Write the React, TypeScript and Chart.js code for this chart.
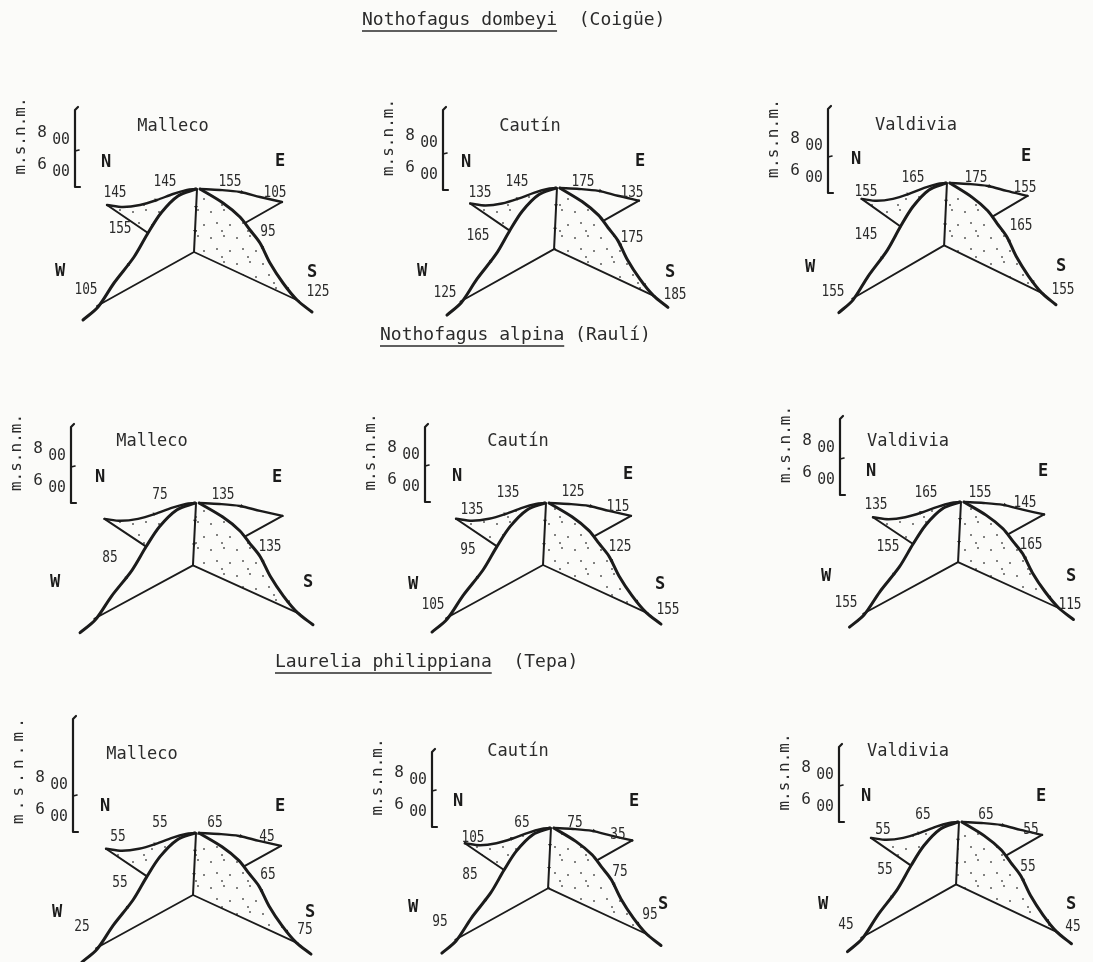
import React, { useEffect, useRef } from "react";
import { Chart, registerables } from "chart.js";

Chart.register(...registerables);

const W = 1093;
const H = 962;

// ---------- data ----------
const SPECIES = ["Nothofagus dombeyi", "Nothofagus alpina", "Laurelia philippiana"];
const COMMON_NAMES = ["(Coigüe)", "(Raulí)", "(Tepa)"];
const TITLE_GAPS = ["  ", " ", "  "];
const REGIONS = ["Malleco", "Cautín", "Valdivia"];
const ASPECTS = ["N", "E", "S", "W"];
const ALTITUDE_TICKS = ["800", "600"];
const ALTITUDE_UNIT = "m.s.n.m.";

// values per region [Malleco, Cautín, Valdivia], each [N, E, S, W]
const COIGUE_800 = [[145, 155, 95, 155], [145, 175, 175, 165], [165, 175, 165, 145]];
const COIGUE_600 = [[145, 105, 125, 105], [135, 135, 185, 125], [155, 155, 155, 155]];
const RAULI_800 = [[75, 135, 135, 85], [135, 125, 125, 95], [165, 155, 165, 155]];
const RAULI_600 = [[null, null, null, null], [135, 115, 155, 105], [135, 145, 115, 155]];
const TEPA_800 = [[55, 65, 65, 55], [65, 75, 75, 85], [65, 65, 55, 55]];
const TEPA_600 = [[55, 45, 75, 25], [105, 35, 95, 95], [55, 55, 45, 45]];

const VALUES_800 = [COIGUE_800, RAULI_800, TEPA_800];
const VALUES_600 = [COIGUE_600, RAULI_600, TEPA_600];

// ---------- drawing template (shape of the schematic mountain, relative to summit) ----------
const RIDGE_N = [[-89, 16], [-73, 18], [-56, 16], [-39, 11], [-23, 5], [-9, 1], [0, 0]];
const RIDGE_E = [[4, 0], [24, 1], [44, 3], [64, 8], [86, 13]];
const RIDGE_W = [[0, 0], [-18, 7], [-35, 24], [-48, 44], [-62, 68], [-82, 94], [-98, 118], [-113, 131]];
const RIDGE_S = [[4, 0], [27, 14], [44, 28], [54, 41], [64, 54], [74, 74], [87, 94], [101, 111], [116, 123]];
const LINK_N = [[-89, 16], [-48, 44]];
const LINK_E = [[86, 13], [49, 34]];
const AXIS_V = [[1, 0], [-2, 63]];
const BASE = [[-99, 117], [-2, 63], [103, 112]];
const REGION_S = [[1, 0], [4, 0], [27, 14], [44, 28], [54, 41], [64, 54], [74, 74], [87, 94], [101, 111], [103, 112], [-2, 63]];
const REGION_N = [...RIDGE_N, [-18, 7], [-35, 24], [-48, 44]];
const BARBS = [[-40, 11, 70], [46, 3, 100], [-68, 76, 215], [67, 59, 145], [92, 100, 145], [0, 18, 180], [-1, 42, 180]];

// ---------- layout ----------
const TITLE_POS = [[362, 20], [380, 335], [275, 662]];
const PANEL_LAYOUT: any[] = [
  { peak: [196, 189], sx: 1.0, sy: 1.0, bar: [75, 108, 187], region: [173, 127],
    dirs: [[106, 163], [280, 162], [312, 273], [60, 272]],
    at800: [[165, 182], [230, 182], [268, 232], [120, 229]],
    at600: [[115, 193], [275, 193], [318, 292], [86, 290]] },
  { peak: [556, 188], sx: 0.965, sy: 0.97, bar: [443, 108, 190], region: [530, 127],
    dirs: [[466, 163], [640, 162], [670, 273], [422, 272]],
    at800: [[517, 182], [583, 182], [632, 238], [478, 236]],
    at600: [[480, 193], [632, 193], [675, 295], [445, 293]] },
  { peak: [946, 183], sx: 0.948, sy: 0.99, bar: [828, 107, 193], region: [916, 126],
    dirs: [[856, 160], [1026, 157], [1061, 267], [810, 268]],
    at800: [[913, 178], [976, 178], [1021, 226], [866, 235]],
    at600: [[866, 192], [1025, 188], [1063, 290], [833, 292]] },
  { peak: [195, 503], sx: 1.017, sy: 0.99, bar: [71, 425, 503], region: [152, 442],
    dirs: [[100, 478], [277, 478], [308, 583], [55, 583]],
    at800: [[160, 495], [223, 495], [270, 547], [110, 558]],
    at600: [[115, 508], [275, 508], [318, 610], [86, 608]] },
  { peak: [545, 503], sx: 1.0, sy: 0.985, bar: [425, 425, 502], region: [518, 442],
    dirs: [[457, 477], [628, 475], [660, 585], [413, 585]],
    at800: [[508, 493], [573, 492], [620, 547], [468, 550]],
    at600: [[472, 510], [618, 507], [668, 610], [433, 605]] },
  { peak: [960, 502], sx: 0.978, sy: 0.955, bar: [840, 417, 495], region: [908, 442],
    dirs: [[871, 472], [1043, 472], [1071, 577], [826, 577]],
    at800: [[926, 493], [980, 493], [1031, 545], [888, 547]],
    at600: [[876, 505], [1025, 503], [1070, 605], [846, 603]] },
  { peak: [195, 833], sx: 1.0, sy: 0.985, bar: [73, 717, 832], region: [142, 755], unitSpan: [718, 824],
    dirs: [[105, 807], [280, 807], [310, 913], [57, 913]],
    at800: [[160, 823], [215, 823], [268, 875], [120, 883]],
    at600: [[118, 837], [267, 837], [305, 930], [82, 927]] },
  { peak: [550, 828], sx: 0.957, sy: 0.955, bar: [432, 750, 827], region: [518, 752],
    dirs: [[458, 802], [634, 802], [663, 905], [413, 908]],
    at800: [[522, 823], [575, 823], [620, 872], [470, 875]],
    at600: [[473, 838], [618, 835], [650, 915], [440, 922]] },
  { peak: [958, 822], sx: 0.978, sy: 0.99, bar: [839, 745, 822], region: [908, 752],
    dirs: [[866, 797], [1041, 797], [1071, 905], [823, 905]],
    at800: [[923, 815], [986, 815], [1028, 867], [885, 870]],
    at600: [[883, 830], [1031, 830], [1073, 927], [846, 925]] },
];

const INK = "#1b1b1b";
const TEXT_INK = "#2b2b2b";
const PAPER = "#fbfbf9";
const MONO = '"DejaVu Sans Mono", "Liberation Mono", monospace';

function makeStipple(): CanvasPattern | string {
  const c = document.createElement("canvas");
  c.width = 26;
  c.height = 26;
  const g = c.getContext("2d");
  if (!g) return "rgba(0,0,0,0.1)";
  g.fillStyle = "rgba(60,60,60,0.85)";
  const dots = [[3, 4], [16, 2], [9, 15], [22, 17], [14, 23]];
  dots.forEach(([x, y]) => {
    g.beginPath();
    g.arc(x, y, 1.0, 0, Math.PI * 2);
    g.fill();
  });
  const p = g.createPattern(c, "repeat");
  return p || "rgba(0,0,0,0.1)";
}

function lineDs(data: any[], width: number, tension: number) {
  return {
    data,
    showLine: true,
    borderColor: INK,
    borderWidth: width,
    pointRadius: 0,
    pointHoverRadius: 0,
    tension,
    fill: false,
    borderCapStyle: "round",
    borderJoinStyle: "round",
  };
}

function buildDatasets() {
  const ds: any[] = [];
  PANEL_LAYOUT.forEach((p) => {
    const at = (pt: number[]) => ({ x: p.peak[0] + pt[0] * p.sx, y: p.peak[1] + pt[1] * p.sy });
    const pts = (arr: number[][]) => arr.map(at);
    ds.push({ data: pts(REGION_S), stipple: true, showLine: false, pointRadius: 0, pointHoverRadius: 0 });
    ds.push({ data: pts(REGION_N), stipple: true, showLine: false, pointRadius: 0, pointHoverRadius: 0 });
    ds.push(lineDs(pts(RIDGE_W), 3, 0.3));
    ds.push(lineDs(pts(RIDGE_S), 3, 0.3));
    ds.push(lineDs(pts(RIDGE_N), 2.4, 0.3));
    ds.push(lineDs(pts(RIDGE_E), 2.4, 0.3));
    ds.push(lineDs(pts(LINK_N), 2, 0));
    ds.push(lineDs(pts(LINK_E), 2, 0));
    ds.push(lineDs(pts(AXIS_V), 2, 0));
    ds.push(lineDs(pts(BASE), 1.8, 0));
    ds.push({
      data: pts(BARBS.map((b) => [b[0], b[1]])),
      showLine: false,
      pointStyle: "triangle",
      pointRadius: 2.2,
      pointHoverRadius: 2.2,
      pointRotation: BARBS.map((b) => b[2]),
      pointBackgroundColor: INK,
      pointBorderWidth: 0,
    });
    const [bx, bt, bb] = p.bar;
    ds.push(lineDs([{ x: bx + 3, y: bt - 1 }, { x: bx, y: bt + 2 }, { x: bx, y: bb }, { x: bx + 5, y: bb }], 2.2, 0));
    ds.push(lineDs([{ x: bx, y: bb - 36 }, { x: bx + 4, y: bb - 37 }], 1.6, 0));
  });
  return ds;
}

export default function App() {
  const ref = useRef<HTMLCanvasElement>(null);

  useEffect(() => {
    const canvas = ref.current;
    if (!canvas) return;
    const stipple = makeStipple();

    const paperPlugin = {
      id: "paperPlugin",
      beforeDraw(chart: any) {
        const ctx = chart.ctx;
        ctx.save();
        ctx.fillStyle = PAPER;
        ctx.fillRect(0, 0, chart.width, chart.height);
        ctx.restore();
      },
      beforeDatasetsDraw(chart: any) {
        const ctx = chart.ctx;
        chart.data.datasets.forEach((d: any, i: number) => {
          if (!d.stipple) return;
          const meta = chart.getDatasetMeta(i);
          const els = meta.data;
          if (!els.length) return;
          ctx.save();
          ctx.beginPath();
          els.forEach((e: any, k: number) => (k === 0 ? ctx.moveTo(e.x, e.y) : ctx.lineTo(e.x, e.y)));
          ctx.closePath();
          ctx.fillStyle = stipple;
          ctx.fill();
          ctx.restore();
        });
      },
      afterDatasetsDraw(chart: any) {
        const ctx = chart.ctx;
        const sx = chart.scales.x;
        const sy = chart.scales.y;
        const px = (v: number) => sx.getPixelForValue(v);
        const py = (v: number) => sy.getPixelForValue(v);
        const text = (t: string, x: number, y: number, font: string, color: string, scaleX = 1, align: CanvasTextAlign = "center") => {
          ctx.save();
          ctx.translate(px(x), py(y));
          ctx.scale(scaleX, 1);
          ctx.font = font;
          ctx.fillStyle = color;
          ctx.textAlign = align;
          ctx.textBaseline = "middle";
          ctx.fillText(t, 0, 0);
          ctx.restore();
        };

        // species titles
        SPECIES.forEach((sp, i) => {
          const [tx, ty] = TITLE_POS[i];
          ctx.save();
          ctx.font = `18px ${MONO}`;
          ctx.fillStyle = TEXT_INK;
          ctx.textAlign = "left";
          ctx.textBaseline = "middle";
          ctx.fillText(sp + TITLE_GAPS[i] + COMMON_NAMES[i], px(tx), py(ty));
          const w = ctx.measureText(sp).width;
          ctx.strokeStyle = TEXT_INK;
          ctx.lineWidth = 1.6;
          ctx.beginPath();
          ctx.moveTo(px(tx), py(ty) + 11);
          ctx.lineTo(px(tx) + w, py(ty) + 11);
          ctx.stroke();
          ctx.restore();
        });

        PANEL_LAYOUT.forEach((p, idx) => {
          const row = Math.floor(idx / 3);
          const col = idx % 3;
          text(REGIONS[col], p.region[0], p.region[1], `17px ${MONO}`, TEXT_INK);
          ASPECTS.forEach((a, k) => {
            text(a, p.dirs[k][0], p.dirs[k][1], `bold 17px ${MONO}`, INK);
            const v8 = VALUES_800[row][col][k];
            const v6 = VALUES_600[row][col][k];
            if (v8 !== null && v8 !== undefined) text(String(v8), p.at800[k][0], p.at800[k][1], `16px ${MONO}`, TEXT_INK, 0.8);
            if (v6 !== null && v6 !== undefined) text(String(v6), p.at600[k][0], p.at600[k][1], `16px ${MONO}`, TEXT_INK, 0.8);
          });
          const [bx, bt, bb] = p.bar;
          const altY = [bb - 54, bb - 22];
          ALTITUDE_TICKS.forEach((t, k) => {
            text(t.charAt(0), bx - 33, altY[k], `16px ${MONO}`, TEXT_INK);
            text(t.slice(1), bx - 14, altY[k] + 7, `16px ${MONO}`, TEXT_INK, 0.92);
          });
          const span = p.unitSpan || [bt - 8, bb - 15];
          ctx.save();
          ctx.font = `16px ${MONO}`;
          const natural = ctx.measureText(ALTITUDE_UNIT).width;
          const target = py(span[1]) - py(span[0]);
          const extra = Math.max(0, (target - natural) / (ALTITUDE_UNIT.length - 1));
          (ctx as any).letterSpacing = `${extra}px`;
          ctx.translate(px(bx - 54), py((span[0] + span[1]) / 2));
          ctx.rotate(-Math.PI / 2);
          ctx.fillStyle = TEXT_INK;
          ctx.textAlign = "center";
          ctx.textBaseline = "middle";
          ctx.fillText(ALTITUDE_UNIT, extra / 2, 0);
          ctx.restore();
        });
      },
    };

    const chart = new Chart(canvas, {
      type: "scatter",
      data: { datasets: buildDatasets() },
      options: {
        animation: false,
        responsive: false,
        devicePixelRatio: 1,
        events: [],
        layout: { padding: 0, autoPadding: false },
        plugins: { legend: { display: false }, tooltip: { enabled: false }, title: { display: false } },
        scales: {
          x: { type: "linear", min: 0, max: W, display: false },
          y: { type: "linear", min: 0, max: H, reverse: true, display: false },
        },
      } as any,
      plugins: [paperPlugin as any],
    });
    return () => chart.destroy();
  }, []);

  return (
    <div style={{ position: "absolute", left: 0, top: 0, width: W, height: H, background: PAPER }}>
      <canvas ref={ref} width={W} height={H} style={{ width: W, height: H, display: "block" }} />
    </div>
  );
}
